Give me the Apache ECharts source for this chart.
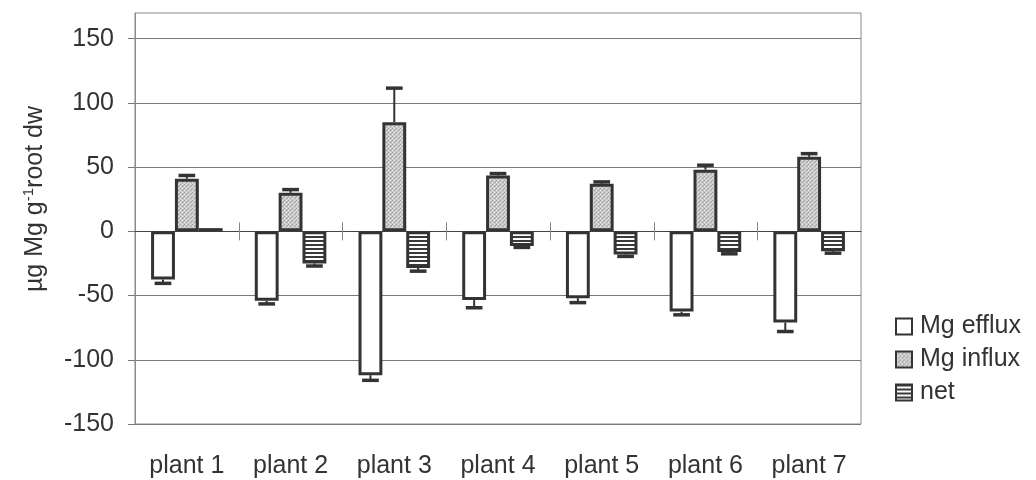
<!DOCTYPE html>
<html><head><meta charset="utf-8">
<script src="https://cdn.jsdelivr.net/npm/echarts@6/dist/echarts.min.js"></script>
<style>html,body{margin:0;padding:0;background:#fff}#c{width:1036px;height:480px}</style>
</head><body><div id="c"></div>
<script>
const categories = ['plant 1','plant 2','plant 3','plant 4','plant 5','plant 6','plant 7'];
const efflux = [-37.5, -54, -112, -53.5, -52, -62.5, -71];
const effluxErr = [-40.5, -56.5, -116, -59.5, -55.5, -65, -78];
const influx = [41, 30, 85, 43.5, 37, 48, 58];
const influxErr = [43.5, 32.5, 111.5, 45, 38.5, 51.5, 60.5];
const net = [2.5, -25, -28.5, -11.5, -18, -16, -15.5];
const netErr = [2.5, -27, -31, -12.5, -19.5, -17.5, -17];
const yTicks = [-150, -100, -50, 0, 50, 100, 150];

function stripes() {
  const c = document.createElement('canvas'); c.width = 4; c.height = 4;
  const g = c.getContext('2d');
  g.fillStyle = '#ffffff'; g.fillRect(0,0,4,4);
  g.fillStyle = '#3a3a3a'; g.fillRect(0,0,4,2);
  return c;
}
function stipple() {
  const c = document.createElement('canvas'); c.width = 4; c.height = 4;
  const g = c.getContext('2d');
  g.fillStyle = '#cacaca'; g.fillRect(0,0,4,4);
  g.fillStyle = '#a0a0a0'; g.fillRect(0,0,1,1); g.fillRect(2,2,1,1); g.fillRect(3,1,1,1);
  g.fillStyle = '#e6e6e6'; g.fillRect(2,0,1,1); g.fillRect(0,2,1,1);
  return c;
}

const errData = [];
[effluxErr, influxErr, netErr].forEach((arr, s) => {
  const base = [efflux, influx, net][s];
  arr.forEach((v, i) => { if (v !== base[i]) errData.push([i, base[i], v, s]); });
});
// category boundaries between groups (tick marks on the zero line)
const boundaries = categories.slice(1).map((c, i) => [i + 1, 0]);

const chart = echarts.init(document.getElementById('c'));
const BW = 0.23;
const txt = '#333';
const FF = 'Liberation Sans, Arial, sans-serif';
chart.setOption({
  animation: false,
  textStyle: { fontFamily: FF },
  grid: { left: 135, right: 175, top: 13, bottom: 56, show: true, borderColor: '#8a8a8a', borderWidth: 1, backgroundColor: 'transparent' },
  xAxis: [
    { type: 'category', data: categories, position: 'bottom', axisLine: { show: false, onZero: false }, axisTick: { show: false },
      axisLabel: { color: txt, fontSize: 25, margin: 30 } },
    { type: 'category', data: categories, axisLine: { onZero: true, lineStyle: { color: '#444', width: 1 } },
      axisTick: { show: false }, axisLabel: { show: false } }
  ],
  yAxis: {
    type: 'value', min: -150, max: 170, interval: 50,
    axisLine: { show: true, lineStyle: { color: '#8a8a8a' } },
    axisTick: { show: true, length: 7, lineStyle: { color: '#777' }, customValues: yTicks },
    axisLabel: { color: txt, fontSize: 25, margin: 21, customValues: yTicks },
    splitLine: { show: true, lineStyle: { color: '#7a7a7a', width: 1 } }
  },
  legend: {
    orient: 'vertical', left: 890, top: 309, itemWidth: 16, itemHeight: 16, itemGap: 8, icon: 'rect',
    textStyle: { color: txt, fontSize: 25, padding: [0,0,0,3] },
    itemStyle: { borderColor: '#333', borderWidth: 2 },
    data: ['Mg efflux', 'Mg influx', 'net']
  },
  graphic: [{
    type: 'text', x: 35, y: 199, rotation: Math.PI / 2,
    style: {
      text: '{a|µg Mg g}{s|-1}{a|root dw}', align: 'center', verticalAlign: 'middle',
      rich: { a: { fontSize: 25, fill: txt, fontFamily: FF },
              s: { fontSize: 15, fill: txt, padding: [0,0,12,0], fontFamily: FF } }
    }
  }],
  series: [
    { name: 'Mg efflux', type: 'bar', data: efflux, barWidth: (BW*100)+'%', barGap: '0%',
      itemStyle: { color: '#ffffff', borderColor: '#333', borderWidth: 3 } },
    { name: 'Mg influx', type: 'bar', data: influx, barWidth: (BW*100)+'%', barGap: '0%',
      itemStyle: { color: { image: stipple(), repeat: 'repeat' }, borderColor: '#333', borderWidth: 3 } },
    { name: 'net', type: 'bar', data: net, barWidth: (BW*100)+'%', barGap: '0%',
      itemStyle: { color: { image: stripes(), repeat: 'repeat' }, borderColor: '#333', borderWidth: 3 } },
    { type: 'custom', data: errData, z: 5,
      renderItem: function (params, api) {
        const i = api.value(0), s = api.value(3);
        const cw = api.size([1, 0])[0];
        const bw = cw * BW;
        const p0 = api.coord([i, api.value(1)]);
        const p1 = api.coord([i, api.value(2)]);
        const x = p0[0] + (s - 1) * bw;
        const cap = bw * 0.35;
        return { type: 'group', children: [
          { type: 'line', shape: { x1: x, y1: p0[1], x2: x, y2: p1[1] }, style: { stroke: '#333', lineWidth: 2 } },
          { type: 'line', shape: { x1: x - cap, y1: p1[1], x2: x + cap, y2: p1[1] }, style: { stroke: '#333', lineWidth: 3.5 } }
        ]};
      }
    },
    { type: 'custom', data: boundaries, z: 1, silent: true,
      renderItem: function (params, api) {
        const cw = api.size([1, 0])[0];
        const p = api.coord([api.value(0), api.value(1)]);
        const x = Math.round(p[0] - cw / 2) + 0.5;
        return { type: 'line', shape: { x1: x, y1: p[1] - 9, x2: x, y2: p[1] + 9 }, style: { stroke: '#888', lineWidth: 1 } };
      }
    }
  ]
});
</script></body></html>
